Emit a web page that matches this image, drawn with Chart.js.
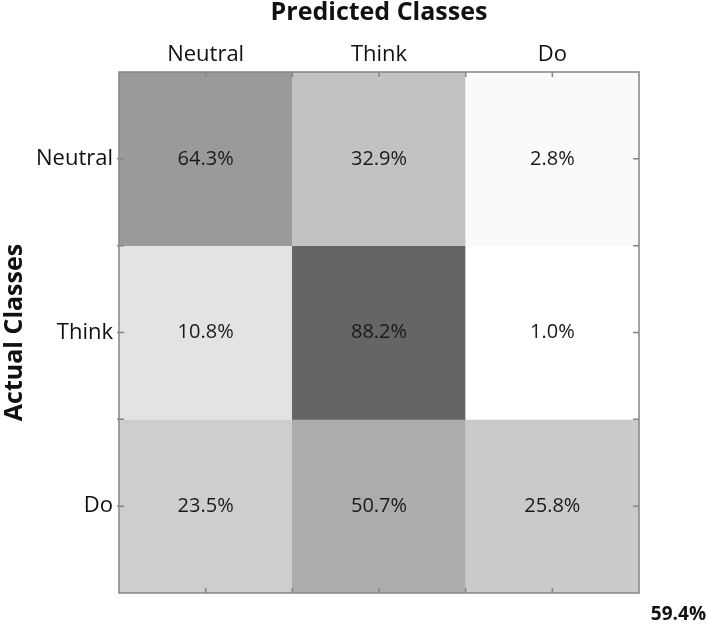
<!DOCTYPE html>
<html>
<head>
<meta charset="utf-8">
<script src="https://cdn.jsdelivr.net/npm/chart.js@4"></script>
<style>
  body { margin: 0; background: #fff; }
  #chart-holder { width: 708px; height: 624px; }
</style>
</head>
<body>
<div id="chart-holder"><canvas id="chart" width="708" height="624"></canvas></div>
<script>
// confusion matrix, rows = actual, columns = predicted
var predictedClasses = ['Neutral', 'Think', 'Do'];
var actualClasses = ['Neutral', 'Think', 'Do'];
var neutralRow = [64.3, 32.9, 2.8];
var thinkRow = [10.8, 88.2, 1.0];
var doRow = [23.5, 50.7, 25.8];
var overallAccuracy = '59.4%';

var rows = [neutralRow, thinkRow, doRow];
var FONT = "'Open Sans', sans-serif";

// grey level of each cell (style only)
var cellShades = [
  ['#9a9a9a', '#c2c2c2', '#fafafa'],
  ['#e3e3e3', '#656565', '#ffffff'],
  ['#cecece', '#acacac', '#cacaca']
];

var datasets = rows.map(function(row, i) {
  return {
    label: actualClasses[i],
    data: row.map(function() { return 1; }),
    values: row,
    backgroundColor: cellShades[i],
    borderWidth: 0,
    barPercentage: 1,
    categoryPercentage: 1
  };
});

// cell texts, frame, inward ticks, overall accuracy
var matrixExtras = {
  id: 'matrixExtras',
  afterDatasetsDraw: function(chart) {
    var ctx = chart.ctx;
    var area = chart.chartArea;
    var xs = chart.scales.x, ys = chart.scales.y;

    ctx.save();
    ctx.font = '20px ' + FONT;
    ctx.fillStyle = '#1a1a1a';
    ctx.textAlign = 'center';
    ctx.textBaseline = 'middle';
    chart.data.datasets.forEach(function(ds, i) {
      chart.getDatasetMeta(i).data.forEach(function(bar, j) {
        var c = bar.getCenterPoint();
        ctx.fillText(ds.values[j].toFixed(1) + '%', c.x, c.y);
      });
    });

    ctx.strokeStyle = '#858585';
    ctx.lineWidth = 1.5;
    ctx.strokeRect(area.left, area.top, area.right - area.left, area.bottom - area.top);

    ctx.lineWidth = 1.5;
    ctx.beginPath();
    var half = (xs.getPixelForValue(1) - xs.getPixelForValue(0)) / 2;
    predictedClasses.forEach(function(c, i) {
      var px = xs.getPixelForValue(i);
      [px, px + half].forEach(function(p) {
        if (p >= area.right - 1) return;
        ctx.moveTo(p, area.top); ctx.lineTo(p, area.top + 5);
        ctx.moveTo(p, area.bottom); ctx.lineTo(p, area.bottom - 5);
      });
    });
    [0.5, 1, 1.5, 2, 2.5].forEach(function(v) {
      var py = ys.getPixelForValue(v);
      ctx.moveTo(area.left - 2, py); ctx.lineTo(area.left + 5, py);
      ctx.moveTo(area.right, py); ctx.lineTo(area.right - 6, py);
    });
    ctx.stroke();

    ctx.font = 'bold 19px ' + FONT;
    ctx.fillStyle = '#111';
    ctx.textAlign = 'right';
    ctx.fillText(overallAccuracy, area.right + 67, area.bottom + 22);
    ctx.restore();
  }
};

var ctx = document.getElementById('chart').getContext('2d');
var matrixChart = new Chart(ctx, {
  type: 'bar',
  data: { labels: predictedClasses, datasets: datasets },
  options: {
    responsive: false,
    animation: false,
    layout: { padding: { left: 0, top: 0, right: 69, bottom: 31 } },
    plugins: { legend: { display: false }, tooltip: { enabled: false } },
    scales: {
      x: {
        position: 'top',
        stacked: true,
        grid: { display: false, drawTicks: false },
        border: { display: false },
        ticks: { color: '#111', font: { family: FONT, size: 22 }, padding: 4 },
        title: {
          display: true, text: 'Predicted Classes', color: '#111',
          font: { family: FONT, size: 25, weight: 'bold' }, padding: { top: -2, bottom: 0 }
        },
        afterFit: function(scale) { scale.height = 72; }
      },
      y: {
        type: 'linear',
        stacked: true,
        reverse: true,
        min: 0,
        max: 3,
        grid: { display: false, drawTicks: false },
        border: { display: false },
        afterBuildTicks: function(scale) {
          scale.ticks = [0.5, 1.5, 2.5].map(function(v) { return { value: v }; });
        },
        ticks: {
          color: '#111', font: { family: FONT, size: 22 }, padding: 6,
          callback: function(v) { return actualClasses[Math.floor(v)]; }
        },
        title: {
          display: true, text: 'Actual Classes', color: '#111',
          font: { family: FONT, size: 25, weight: 'bold' }, padding: { top: 0, bottom: 0 }
        },
        afterFit: function(scale) { scale.width = 119; }
      }
    }
  },
  plugins: [matrixExtras]
});
</script>
</body>
</html>
